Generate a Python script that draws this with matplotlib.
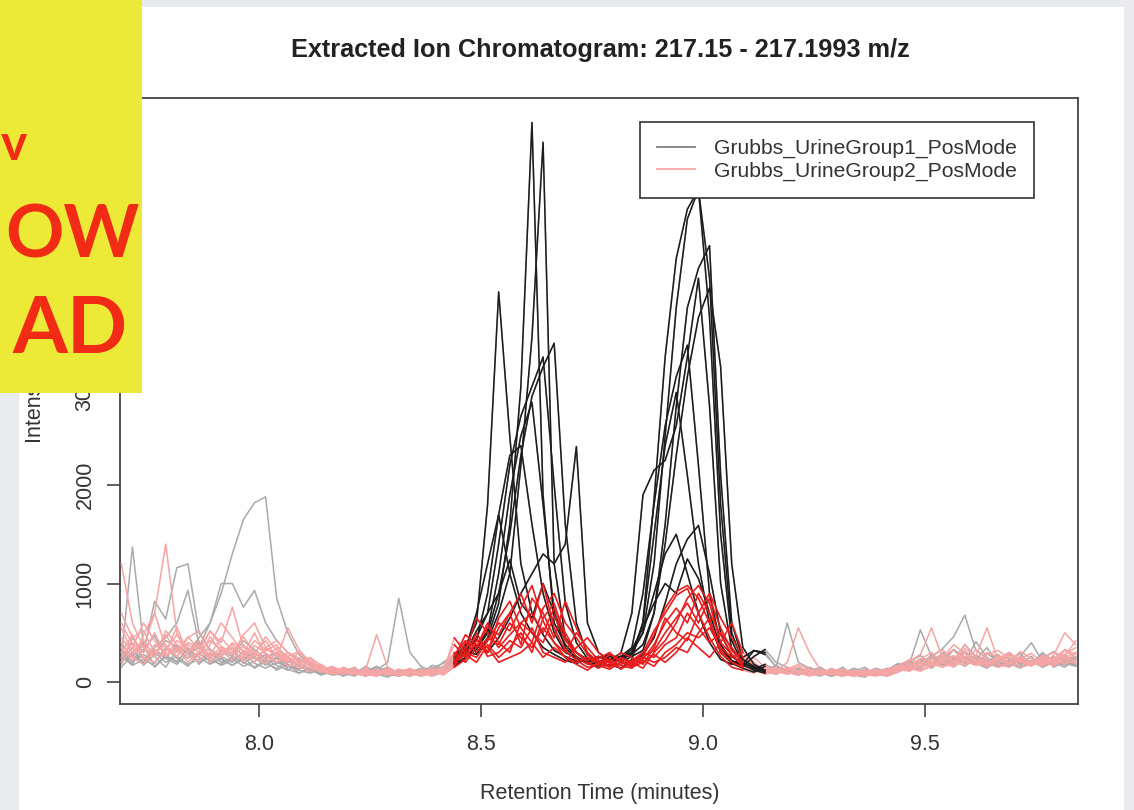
import numpy as np
import matplotlib.pyplot as plt
from matplotlib.lines import Line2D
from matplotlib.patches import Rectangle

plt.rcParams['font.family'] = ['Liberation Sans', 'DejaVu Sans']

# scan times (minutes), one every 0.025 min
rt = np.linspace(7.69, 9.84, 87)

# --- Grubbs_UrineGroup1_PosMode: one EIC per sample ---
g1_s01 = [310, 180, 420, 260, 150, 330, 240, 410, 200, 280,
          350, 190, 260, 170, 240, 130, 90, 150, 110, 70,
          90, 60, 120, 80, 50, 110, 70, 140, 90, 160,
          230, 310, 280, 450, 800, 1600, 3000, 5680, 1900, 600,
          380, 260, 190, 150, 180, 140, 230, 610, 1850, 3300,
          4300, 4800, 5000, 3700, 1500, 420, 180, 120, 90, 150,
          110, 80, 140, 90, 60, 120, 70, 50, 110, 90,
          140, 210, 160, 280, 190, 330, 250, 180, 290, 210,
          160, 240, 190, 280, 150, 210, 260]
g1_s02 = [240, 1370, 380, 150, 260, 200, 350, 180, 290, 230,
          170, 260, 140, 210, 120, 180, 90, 130, 70, 110,
          60, 100, 80, 150, 90, 60, 120, 80, 170, 140,
          260, 380, 300, 420, 700, 1100, 2200, 3500, 5480, 1200,
          450, 300, 210, 170, 240, 200, 260, 320, 700, 1600,
          2800, 3800, 4200, 4430, 2100, 600, 230, 160, 110, 80,
          140, 100, 70, 130, 90, 150, 60, 100, 80, 120,
          190, 130, 240, 170, 300, 220, 380, 260, 170, 230,
          300, 180, 220, 160, 250, 190, 230]
g1_s03 = [180, 450, 300, 820, 640, 1160, 1200, 500, 330, 260,
          200, 310, 240, 180, 260, 150, 210, 120, 80, 130,
          100, 150, 70, 120, 200, 850, 300, 160, 110, 200,
          280, 350, 600, 1800, 3960, 2500, 1200, 700, 480, 320,
          260, 210, 240, 180, 230, 260, 350, 900, 1800, 2600,
          3100, 3420, 2200, 900, 380, 220, 170, 130, 180, 120,
          90, 130, 80, 110, 70, 90, 130, 60, 100, 140,
          120, 180, 530, 260, 340, 460, 680, 320, 240, 190,
          280, 220, 170, 260, 200, 150, 230]
g1_s04 = [220, 350, 170, 280, 420, 360, 300, 450, 600, 900,
          1300, 1650, 1820, 1880, 850, 500, 280, 180, 130, 100,
          80, 120, 90, 60, 110, 80, 130, 70, 100, 150,
          210, 300, 450, 700, 1400, 2200, 2700, 3000, 3300, 2000,
          800, 400, 240, 190, 220, 250, 300, 500, 1200, 2500,
          3800, 4700, 5000, 4100, 1800, 500, 200, 140, 100, 130,
          80, 120, 70, 100, 60, 90, 140, 100, 80, 130,
          170, 220, 150, 200, 260, 190, 310, 230, 350, 180,
          220, 290, 170, 240, 310, 200, 250]
g1_s05 = [260, 190, 330, 470, 240, 380, 290, 350, 600, 1000,
          1000, 760, 930, 600, 420, 300, 220, 170, 120, 90,
          130, 70, 110, 160, 90, 60, 100, 140, 80, 120,
          180, 250, 330, 500, 900, 1500, 2300, 2900, 3200, 3440,
          1600, 600, 280, 200, 170, 230, 280, 600, 1500, 2400,
          2940, 2100, 1200, 600, 300, 190, 140, 100, 160, 90,
          130, 70, 110, 150, 80, 120, 90, 60, 110, 80,
          150, 200, 270, 180, 240, 330, 200, 410, 250, 170,
          200, 260, 400, 210, 180, 270, 220]
g1_s06 = [150, 280, 200, 350, 450, 600, 930, 380, 190, 310,
          260, 420, 330, 240, 300, 180, 130, 200, 90, 150,
          110, 80, 160, 100, 70, 130, 90, 110, 60, 100,
          200, 280, 350, 520, 1100, 1900, 2500, 2840, 1800, 700,
          350, 240, 200, 260, 230, 290, 700, 1900, 2150, 2250,
          2600, 3300, 4100, 2800, 1000, 330, 200, 150, 120, 170,
          100, 140, 90, 60, 120, 80, 110, 150, 70, 100,
          130, 170, 220, 160, 300, 240, 190, 260, 200, 280,
          170, 230, 180, 300, 210, 170, 240]
g1_s07 = [330, 210, 280, 190, 350, 240, 160, 290, 220, 180,
          260, 200, 150, 230, 170, 120, 180, 100, 140, 80,
          120, 90, 60, 110, 150, 90, 130, 70, 120, 90,
          160, 240, 380, 300, 450, 650, 900, 1100, 1300, 1200,
          1400, 2390, 600, 300, 220, 260, 200, 280, 450, 800,
          1200, 1450, 1590, 1100, 500, 260, 180, 320, 280, 160,
          120, 90, 150, 100, 70, 130, 90, 120, 80, 60,
          110, 160, 200, 140, 230, 170, 260, 190, 140, 220,
          250, 180, 210, 150, 230, 190, 160]
g1_s08 = [200, 300, 240, 160, 270, 210, 330, 250, 180, 240,
          170, 230, 300, 190, 140, 210, 160, 110, 170, 90,
          140, 110, 70, 90, 130, 80, 60, 100, 140, 190,
          250, 330, 420, 900, 1700, 2300, 2400, 1600, 900, 500,
          300, 250, 200, 240, 280, 220, 300, 500, 900, 1300,
          1500, 1100, 700, 400, 230, 180, 250, 320, 300, 150,
          600, 200, 140, 90, 120, 70, 100, 80, 130, 90,
          120, 170, 130, 250, 180, 220, 160, 240, 190, 150,
          210, 160, 190, 240, 170, 210, 180]
g1_s09 = [260, 170, 230, 300, 200, 260, 180, 230, 290, 200,
          240, 160, 210, 280, 190, 230, 150, 120, 90, 130,
          70, 110, 90, 130, 60, 90, 120, 80, 150, 110,
          190, 300, 520, 700, 900, 1240, 800, 650, 1000, 700,
          450, 300, 230, 200, 260, 240, 330, 550, 800, 1000,
          900, 1250, 1050, 700, 350, 210, 160, 260, 330, 200,
          150, 110, 80, 130, 90, 60, 110, 90, 140, 100,
          180, 130, 200, 260, 170, 220, 300, 210, 160, 250,
          190, 140, 220, 180, 260, 200, 170]
g1_s10 = [380, 260, 190, 320, 240, 180, 290, 200, 250, 170,
          220, 300, 190, 140, 200, 160, 120, 90, 130, 100,
          90, 130, 60, 100, 80, 120, 90, 60, 100, 130,
          200, 330, 700, 1200, 1700, 1100, 700, 500, 350, 280,
          220, 190, 230, 260, 210, 240, 280, 380, 700, 1400,
          2300, 3100, 3700, 4000, 3200, 1200, 350, 180, 120, 160,
          120, 80, 140, 100, 60, 110, 80, 130, 90, 70,
          140, 190, 150, 210, 170, 250, 190, 270, 220, 160,
          230, 190, 260, 150, 200, 240, 190]

# --- Grubbs_UrineGroup2_PosMode ---
g2_s01 = [1200, 600, 350, 700, 1400, 500, 300, 420, 260, 350,
          280, 460, 300, 220, 350, 260, 180, 240, 130, 90,
          150, 110, 70, 130, 90, 120, 60, 100, 140, 90,
          180, 300, 250, 420, 600, 520, 750, 980, 620, 400,
          250, 180, 120, 200, 150, 240, 180, 300, 520, 700,
          880, 950, 700, 450, 260, 150, 120, 90, 150, 110,
          200, 550, 300, 120, 80, 130, 90, 60, 120, 100,
          160, 210, 280, 550, 240, 180, 300, 220, 170, 260,
          200, 310, 240, 180, 270, 500, 380]
g2_s02 = [700, 450, 520, 300, 380, 250, 460, 330, 520, 400,
          760, 350, 300, 420, 250, 550, 330, 200, 150, 120,
          90, 140, 80, 60, 110, 90, 130, 70, 100, 150,
          280, 420, 350, 560, 480, 700, 900, 600, 1000, 550,
          320, 220, 150, 180, 240, 130, 200, 260, 480, 750,
          920, 980, 850, 600, 320, 200, 150, 110, 170, 90,
          130, 180, 120, 80, 110, 60, 90, 130, 80, 110,
          150, 230, 190, 260, 330, 210, 380, 250, 190, 240,
          300, 220, 170, 260, 200, 320, 250]
g2_s03 = [400, 250, 180, 330, 260, 420, 350, 250, 460, 300,
          380, 260, 420, 330, 280, 200, 250, 160, 100, 140,
          110, 80, 120, 480, 150, 90, 60, 110, 80, 130,
          380, 250, 500, 300, 650, 820, 550, 400, 750, 900,
          600, 450, 280, 170, 130, 200, 160, 230, 380, 600,
          750, 600, 900, 700, 480, 280, 160, 120, 90, 140,
          100, 70, 120, 90, 140, 80, 60, 100, 130, 90,
          130, 190, 160, 230, 280, 200, 340, 260, 550, 220,
          180, 260, 200, 160, 230, 330, 280]
g2_s04 = [550, 300, 420, 260, 520, 380, 240, 300, 520, 360,
          300, 240, 370, 300, 200, 260, 310, 180, 120, 160,
          100, 70, 130, 90, 120, 80, 110, 70, 120, 100,
          450, 300, 650, 500, 350, 480, 600, 700, 500, 750,
          500, 300, 200, 140, 220, 170, 140, 260, 320, 500,
          650, 800, 600, 850, 550, 320, 200, 140, 110, 80,
          120, 160, 90, 70, 110, 130, 80, 60, 100, 120,
          170, 140, 230, 300, 190, 260, 210, 170, 280, 320,
          240, 200, 180, 270, 220, 190, 300]
g2_s05 = [300, 480, 230, 380, 300, 560, 280, 200, 380, 600,
          450, 300, 200, 350, 280, 160, 200, 250, 170, 110,
          80, 120, 90, 130, 70, 100, 140, 90, 60, 120,
          250, 480, 380, 300, 550, 700, 380, 850, 700, 450,
          820, 550, 300, 200, 170, 250, 200, 140, 300, 420,
          600, 850, 980, 800, 400, 600, 300, 150, 130, 90,
          150, 110, 80, 130, 90, 70, 120, 100, 80, 130,
          160, 120, 200, 170, 240, 380, 290, 200, 150, 230,
          280, 210, 160, 240, 190, 260, 420]
g2_s06 = [200, 350, 600, 420, 280, 330, 450, 520, 300, 250,
          400, 320, 260, 180, 300, 230, 140, 200, 120, 150,
          120, 90, 140, 70, 100, 60, 90, 120, 80, 140,
          300, 200, 350, 600, 400, 300, 600, 500, 400, 680,
          420, 300, 220, 260, 190, 300, 250, 180, 350, 650,
          500, 420, 700, 900, 650, 450, 250, 180, 120, 150,
          100, 70, 130, 110, 80, 60, 110, 90, 120, 70,
          140, 180, 150, 200, 260, 320, 230, 180, 300, 260,
          180, 240, 290, 200, 170, 250, 300]
g2_s07 = [350, 220, 480, 700, 350, 260, 380, 300, 420, 330,
          280, 480, 600, 350, 420, 300, 200, 140, 180, 100,
          140, 80, 110, 90, 140, 70, 110, 80, 100, 90,
          200, 400, 300, 450, 380, 600, 450, 350, 550, 400,
          300, 500, 350, 220, 160, 180, 220, 300, 250, 380,
          450, 700, 550, 400, 500, 350, 200, 140, 100, 130,
          90, 120, 80, 100, 70, 120, 90, 70, 100, 130,
          110, 160, 240, 190, 220, 270, 200, 330, 240, 180,
          150, 220, 180, 210, 260, 180, 230]
g2_s08 = [250, 400, 300, 500, 260, 350, 200, 300, 280, 450,
          320, 210, 280, 460, 320, 250, 160, 110, 150, 90,
          120, 100, 60, 110, 80, 130, 100, 60, 90, 110,
          160, 350, 450, 260, 300, 420, 350, 550, 300, 250,
          200, 350, 450, 300, 200, 140, 180, 220, 160, 300,
          380, 500, 450, 550, 350, 250, 300, 200, 120, 90,
          140, 100, 60, 90, 130, 100, 70, 110, 90, 60,
          100, 150, 120, 180, 150, 210, 170, 250, 200, 190,
          270, 230, 200, 240, 300, 260, 210]
g2_s09 = [600, 380, 250, 200, 320, 480, 300, 380, 200, 280,
          350, 280, 500, 260, 200, 300, 240, 180, 110, 80,
          100, 130, 80, 70, 120, 90, 60, 130, 110, 80,
          220, 280, 200, 380, 250, 350, 500, 300, 650, 800,
          450, 250, 180, 240, 300, 200, 170, 250, 200, 250,
          350, 300, 500, 650, 300, 200, 150, 250, 150, 110,
          80, 110, 140, 70, 100, 90, 120, 80, 60, 100,
          130, 110, 170, 210, 160, 180, 260, 220, 180, 270,
          200, 150, 180, 220, 160, 230, 190]
g2_s10 = [450, 300, 360, 250, 480, 300, 400, 350, 240, 320,
          220, 380, 260, 320, 380, 200, 300, 210, 160, 120,
          90, 130, 100, 80, 130, 70, 110, 90, 120, 70,
          150, 230, 420, 350, 200, 250, 300, 400, 250, 350,
          250, 200, 250, 180, 280, 220, 150, 200, 280, 200,
          300, 450, 350, 250, 400, 280, 180, 120, 80, 100,
          130, 90, 70, 110, 80, 100, 60, 90, 110, 80,
          120, 140, 110, 160, 200, 150, 230, 170, 210, 150,
          190, 250, 210, 170, 230, 280, 350]

group1 = [g1_s01, g1_s02, g1_s03, g1_s04, g1_s05,
          g1_s06, g1_s07, g1_s08, g1_s09, g1_s10]
group2 = [g2_s01, g2_s02, g2_s03, g2_s04, g2_s05,
          g2_s06, g2_s07, g2_s08, g2_s09, g2_s10]
group_names = ['Grubbs_UrineGroup1_PosMode', 'Grubbs_UrineGroup2_PosMode']

# y ticks; the upper labels sit under the banner, so only the lower ones are written
y_ticks = [0, 1000, 2000, 3000, 4000, 5000]
y_tick_labels = ['0', '1000', '2000', '3000', '', '']
x_ticks = [8.0, 8.5, 9.0, 9.5]
x_tick_labels = ['8.0', '8.5', '9.0', '9.5']

for trace in group1 + group2:
    assert len(trace) == len(rt), len(trace)

# peak windows drawn in full colour, rest of the trace is faded
win1 = (rt >= 8.44) & (rt <= 9.15)
win2 = (rt >= 8.44) & (rt <= 9.10)

W, H = 1134, 810
fig = plt.figure(figsize=(W / 100, H / 100), dpi=100, facecolor='#e9ebef')

# white page behind the plot
fig.patches.append(Rectangle((19 / W, 0), (1124 - 19) / W, 1 - 7 / H,
                             transform=fig.transFigure, facecolor='white',
                             edgecolor='none', zorder=-1))

ax = fig.add_axes([120 / W, 106 / H, 958 / W, 606 / H])
ax.set_facecolor('white')

for y in group1:
    ax.plot(rt, y, color='#aaaaaa', lw=1.1, zorder=2)
for y in group2:
    ax.plot(rt, y, color='#f7a4a4', lw=1.1, zorder=3)
for y in group1:
    y = np.asarray(y)
    ax.plot(rt[win1], y[win1], color='#1c1c1c', lw=1.1, zorder=4)
for y in group2:
    y = np.asarray(y)
    ax.plot(rt[win2], y[win2], color='#ec1c1c', lw=1.1, zorder=5)

ax.set_xlim(7.687, 9.845)
ax.set_ylim(-223, 5929)
ax.set_xticks(x_ticks)
ax.set_xticklabels(x_tick_labels)
ax.set_yticks(y_ticks)
ax.set_yticklabels(y_tick_labels, rotation=90, va='center')
ax.tick_params(length=9.5, width=1.1, color='#333333', labelsize=15.5,
               pad=12, labelcolor='#333333')
ax.tick_params(axis='y', pad=8)
for sp in ax.spines.values():
    sp.set_color('#444444')
    sp.set_linewidth(1.3)

handles = [Line2D([], [], color='#808080', lw=1.3),
           Line2D([], [], color='#ffa8a8', lw=1.3)]
leg = ax.legend(handles, group_names, loc='upper right',
                bbox_to_anchor=(0.954, 0.960), fancybox=False,
                fontsize=15.2, handlelength=1.8, handletextpad=0.9,
                labelspacing=0.15, borderpad=0.8, borderaxespad=0)
leg.get_frame().set_edgecolor('#333333')
leg.get_frame().set_linewidth(1.2)
leg.get_frame().set_alpha(1)
for t in leg.get_texts():
    t.set_color('#333333')

fig.text(600 / W, 1 - 50 / H,
         'Extracted Ion Chromatogram: 217.15 - 217.1993 m/z',
         ha='center', va='center', fontsize=18.2, fontweight='bold',
         color='#222222')
fig.text(600 / W, 1 - 793 / H, 'Retention Time (minutes)',
         ha='center', va='center', fontsize=15.5, color='#333333')
fig.text(33 / W, 1 - 401 / H, 'Intensity', rotation=90,
         ha='center', va='center', fontsize=15.5, color='#333333')

# yellow banner in the top left corner
fig.patches.append(Rectangle((0, 1 - 393 / H), 142 / W, 393 / H,
                             transform=fig.transFigure, facecolor='#ede937',
                             edgecolor='none', zorder=10))
banner = dict(va='baseline', color='#f12b15', fontweight='bold',
              family='Lato', zorder=11)
fig.text(1 / W, 1 - 160 / H, 'v', fontsize=36, ha='left', **banner)
fig.text(139 / W, 1 - 257 / H, 'OW', fontsize=52, ha='right', **banner)
fig.text(128 / W, 1 - 353 / H, 'AD', fontsize=57, ha='right', **banner)

fig.savefig('out.png', dpi=100, facecolor=fig.get_facecolor())
